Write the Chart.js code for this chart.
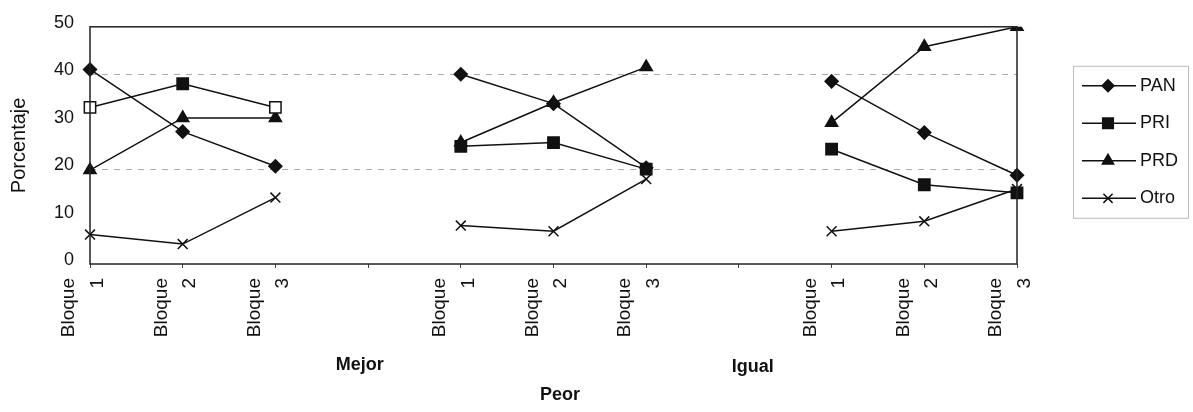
<!DOCTYPE html>
<html lang="es">
<head>
<meta charset="utf-8">
<title>Porcentaje por bloque</title>
<script src="https://cdn.jsdelivr.net/npm/chart.js@4/dist/chart.umd.min.js"></script>
<style>
	html, body { margin: 0; padding: 0; background: #fff; }
	#wrap { width: 1193px; height: 412px; position: relative; }
</style>
</head>
<body>
<div id="wrap"><canvas id="grafica" width="1193" height="412"></canvas></div>
<script>
// ── Datos ──────────────────────────────────────────────────────────────
// Categorías (11 posiciones: 3 bloques por grupo y un hueco entre grupos)
const categorias = [
	["Bloque", "1"], ["Bloque", "2"], ["Bloque", "3"], "",
	["Bloque", "1"], ["Bloque", "2"], ["Bloque", "3"], "",
	["Bloque", "1"], ["Bloque", "2"], ["Bloque", "3"],
];
const grupos = ["Mejor", "Peor", "Igual"];

const pan  = [41, 27.9, 20.6, null, 40, 33.8, 20.3, null, 38.5, 27.7, 18.7];
const pri  = [33, 38, 33, null, 24.8, 25.6, 20, null, 24.2, 16.7, 15];
const prd  = [19.8, 30.8, 30.8, null, 25.6, 34, 41.5, null, 29.8, 45.8, 50];
const otro = [6.2, 4.2, 14, null, 8.1, 6.9, 17.9, null, 6.9, 9, 15.8];

const yTicks = [0, 10, 20, 30, 40, 50];

const FUENTE = "'Liberation Sans', Arial, sans-serif";

// ── Plugin: marco del área de trazado ──────────────────────────────────
const marco = {
	id: "marco",
	afterDatasetsDraw(chart) {
		const { ctx, chartArea: a } = chart;
		ctx.save();
		ctx.strokeStyle = "#222";
		ctx.lineWidth = 1.5;
		ctx.strokeRect(a.left, a.top, a.right - a.left, a.bottom - a.top);
		ctx.restore();
	},
};

// ── Plugin: etiquetas de grupo (Mejor / Peor / Igual) ──────────────────
const etiquetasGrupo = {
	id: "etiquetasGrupo",
	afterDraw(chart) {
		const { ctx, chartArea: a, scales } = chart;
		// posición (índice decimal en la escala) y desplazamiento vertical
		const anclas = [[2.91, 101], [5.07, 131], [7.15, 103]];
		ctx.save();
		ctx.fillStyle = "#111";
		ctx.font = "bold 18px " + FUENTE;
		ctx.textAlign = "center";
		ctx.textBaseline = "middle";
		grupos.forEach((g, i) => {
			const x = scales.x.getPixelForValue(anclas[i][0]);
			ctx.fillText(g, x, a.bottom + anclas[i][1]);
		});
		ctx.restore();
	},
};

// ── Plugin: leyenda con línea + marcador ───────────────────────────────
const leyenda = {
	id: "leyenda",
	afterDraw(chart) {
		const { ctx, chartArea: a } = chart;
		const x0 = a.right + 56, y0 = a.top + 39;
		ctx.save();
		ctx.strokeStyle = "#bbb";
		ctx.lineWidth = 1;
		ctx.strokeRect(x0 + 0.5, y0 + 0.5, 115, 152);
		chart.data.datasets.forEach((ds, i) => {
			const y = y0 + 20 + i * 37.5;
			ctx.strokeStyle = "#111";
			ctx.lineWidth = 1.5;
			ctx.beginPath();
			ctx.moveTo(x0 + 9, y);
			ctx.lineTo(x0 + 63, y);
			ctx.stroke();
			ctx.fillStyle = "#111";
			Chart.helpers.drawPoint(ctx, {
				pointStyle: ds.pointStyle,
				radius: ds.pointRadius - 0.5,
				borderWidth: 1.5,
				rotation: 0,
			}, x0 + 35, y);
			ctx.fillStyle = "#111";
			ctx.font = "18px " + FUENTE;
			ctx.textAlign = "left";
			ctx.textBaseline = "middle";
			ctx.fillText(ds.label, x0 + 67, y);
		});
		ctx.restore();
	},
};

function serie(label, data, estilo, radio, relleno) {
	return {
		label,
		data,
		borderColor: "#111",
		borderWidth: 1.5,
		backgroundColor: "#111",
		pointStyle: estilo,
		pointRadius: radio,
		pointHoverRadius: radio,
		pointBorderWidth: 1.5,
		pointBorderColor: "#111",
		pointBackgroundColor: relleno || "#111",
		spanGaps: false,
		tension: 0,
	};
}

// PRI en "Mejor" bloques 1 y 3 aparece con marcador hueco
const rellenoPri = pri.map((_, i) => (i === 0 || i === 2 ? "#fff" : "#111"));

new Chart(document.getElementById("grafica"), {
	type: "line",
	data: {
		labels: categorias,
		datasets: [
			serie("PAN", pan, "rectRot", 6.5),
			serie("PRI", pri, "rect", 8, rellenoPri),
			serie("PRD", prd, "triangle", 7),
			serie("Otro", otro, "crossRot", 7),
		],
	},
	options: {
		responsive: false,
		animation: false,
		layout: { padding: { top: 24, right: 176, bottom: 0, left: 0 } },
		plugins: {
			legend: { display: false },
			tooltip: { enabled: false },
		},
		scales: {
			x: {
				type: "category",
				offset: false,
				afterFit: (s) => { s.height = 148; },
				border: { display: false },
				grid: {
					drawOnChartArea: false,
					drawTicks: true,
					tickLength: 4,
					color: "#444",
				},
				ticks: {
					autoSkip: false,
					minRotation: 90,
					maxRotation: 90,
					padding: 10,
					labelOffset: -21,
					color: "#111",
					font: { family: FUENTE, size: 19, lineHeight: 1.5 },
				},
			},
			y: {
				min: 0,
				max: 50,
				afterFit: (s) => { s.width = 90; },
				afterBuildTicks: (s) => { s.ticks = yTicks.map((v) => ({ value: v })); },
				border: { display: false, dash: [6, 6] },
				grid: {
					drawTicks: false,
					color: (c) => (c.tick && (c.tick.value === 20 || c.tick.value === 40) ? "#aaa" : "rgba(0,0,0,0)"),
					lineWidth: 1,
				},
				ticks: {
					padding: 16,
					labelOffset: -4,
					color: "#111",
					font: { family: FUENTE, size: 18 },
				},
				title: {
					display: true,
					text: "Porcentaje",
					color: "#111",
					padding: { top: 7, bottom: 0 },
					font: { family: FUENTE, size: 20 },
				},
			},
		},
	},
	plugins: [marco, etiquetasGrupo, leyenda],
});
</script>
</body>
</html>
